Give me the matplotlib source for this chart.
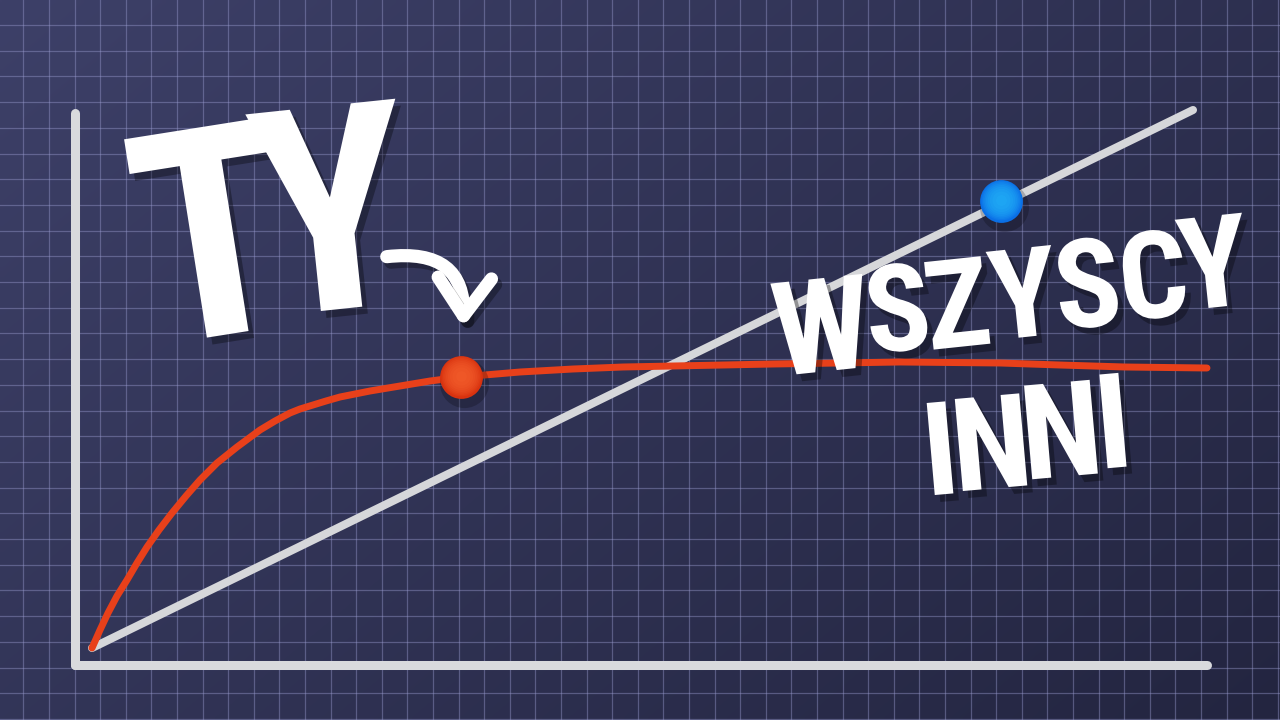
import glob
import os
import numpy as np
import matplotlib
matplotlib.use('Agg')
import matplotlib.pyplot as plt
import matplotlib.patheffects as pe
from matplotlib import font_manager as fm
from matplotlib.patches import FancyArrowPatch

# --- data (pixel-space values, y grows downward) ---
red_x = [92, 100, 108, 117, 127, 137, 147, 159, 172, 186, 200, 217, 237, 260, 275, 290, 300, 313, 326, 340,
         370, 400, 430, 461, 520, 573, 623, 673, 723, 773, 840, 900, 1000, 1060, 1125, 1207]
red_y = [648, 630, 613, 596, 580, 563, 547, 530, 513, 496, 480, 463, 447, 430, 421, 413, 409, 405, 401, 397,
         391, 386, 381, 377, 372, 369, 367, 366, 365, 364, 363, 362, 363, 365, 367, 368]

grey_x = [92, 1193]
grey_y = [648, 110]

axis_v_x = [75, 75]
axis_v_y = [113, 665]
axis_h_x = [75, 1207]
axis_h_y = [665, 665]

you_point = (461, 377)
others_point = (1001, 201)

# letters: (char, x, y, height_px, rotation)
ty_letters = [('T', 212, 232, 232, 9), ('Y', 331, 208, 226, 6)]
wszyscy_letters = [('W', 821, 325, 112, 6), ('S', 897, 308, 104, 6), ('Z', 957, 303, 106, 6),
                   ('Y', 1023, 293, 107, 6), ('S', 1087, 283, 106, 6), ('C', 1153, 275, 104, 6),
                   ('Y', 1213, 262, 110, 6)]
inni_letters = [('I', 940, 448, 110, 5), ('N', 991, 442, 110, 5), ('N', 1061, 430, 112, 5),
                ('I', 1113, 421, 112, 5)]

arrow_start = (384, 257)
arrow_end = (463, 330)

# --- pick a condensed heavy font if one is around ---
cands = ['notosans-extracondensedblack', 'notosans-extracondensedextrabold', 'notosans-extracondensedbold',
         'notosans-condensedblack', 'notosans-condensedextrabold', 'notosans-condensedbold',
         'robotocondensed-black', 'robotocondensed-extrabold', 'robotocondensed-bold', 'roboto_condensed-bold',
         'opensans-condensedextrabold', 'opensans-condensedbold', 'opensanscondensed-bold',
         'dejavusanscondensed-bold', 'liberationsansnarrow-bold']
files = [f.fname for f in fm.fontManager.ttflist]
for d in ['/usr/share/fonts', '/usr/local/share/fonts', os.path.expanduser('~/.fonts')]:
    files += glob.glob(d + '/**/*.[ot]tf', recursive=True)
font_file = None
for c in cands:
    for f in files:
        if os.path.basename(f).lower().replace(' ', '').startswith(c):
            font_file = f
            break
    if font_file:
        break
if font_file:
    letter_font = fm.FontProperties(fname=font_file)
else:
    letter_font = fm.FontProperties(family='DejaVu Sans', weight='bold')
cap_ratio = 0.711

fig = plt.figure(figsize=(12.8, 7.2), dpi=100)
ax = fig.add_axes([0, 0, 1, 1])
ax.set_xlim(0, 1280)
ax.set_ylim(720, 0)
ax.axis('off')

# background gradient, lighter top-left
gx, gy = np.meshgrid(np.linspace(0, 1, 256), np.linspace(0, 1, 144))
t = np.clip(0.6 * gx + 0.4 * gy, 0, 1)
c0 = np.array([61, 64, 104]) / 255
c1 = np.array([35, 37, 64]) / 255
bg = c0[None, None, :] * (1 - t[..., None]) + c1[None, None, :] * t[..., None]
ax.imshow(bg, extent=(0, 1280, 720, 0), aspect='auto', zorder=0, interpolation='bilinear')

# grid
for gxv in np.arange(23.3, 1280, 25.6):
    ax.axvline(gxv, color='#9a9cd0', alpha=0.42, lw=0.9, zorder=1)
for gyv in np.arange(25.0, 720, 25.7):
    ax.axhline(gyv, color='#9a9cd0', alpha=0.42, lw=0.9, zorder=1)

# axes
ax.plot(axis_v_x, axis_v_y, color='#d9dadd', lw=6.5, solid_capstyle='round', zorder=3)
ax.plot(axis_h_x, axis_h_y, color='#d9dadd', lw=6.5, solid_capstyle='round', zorder=3)

# lines
ax.plot(grey_x, grey_y, color='#d6d7da', lw=5.8, solid_capstyle='round', zorder=4)
ax.plot(red_x, red_y, color='#e8401a', lw=5.0, solid_capstyle='round', solid_joinstyle='round', zorder=5)

# dots with a soft radial shading
def dot(p, edge, hi):
    ax.scatter([p[0] + 3], [p[1] + 6], s=1250, color='black', alpha=0.22, lw=0, zorder=6)
    ax.scatter([p[0]], [p[1]], s=950, color=edge, lw=0, zorder=7)
    for s in np.linspace(820, 60, 8):
        ax.scatter([p[0]], [p[1] - 1], s=s, color=hi, lw=0, alpha=0.12, zorder=7)

dot(you_point, '#d8320f', '#ff7038')
dot(others_point, '#0a6fe6', '#2cc8ff')

# arrow
arr = FancyArrowPatch(arrow_start, arrow_end, connectionstyle='arc3,rad=-0.6',
                      arrowstyle='->,head_length=1.7,head_width=1.2', mutation_scale=16,
                      color='white', lw=9.5, capstyle='round', joinstyle='round', zorder=8)
arr.set_path_effects([pe.SimpleLineShadow(offset=(3, -4), shadow_color='black', alpha=0.3), pe.Normal()])
ax.add_patch(arr)

# big letters (font is wider than the original lettering, so shrink a little)
text_shadow = [pe.withSimplePatchShadow(offset=(4, -5), shadow_rgbFace='black', alpha=0.32)]
for group, shrink in [(ty_letters, 0.9), (wszyscy_letters, 0.83), (inni_letters, 0.84)]:
    for ch, x, y, h, rot in group:
        em = h * shrink / cap_ratio
        d = 0.08 * em  # va='center' sits a bit above the cap centre
        a = np.radians(rot)
        ax.text(x + d * np.sin(a), y + d * np.cos(a), ch, fontproperties=letter_font,
                fontsize=em * 0.72, color='white', ha='center', va='center',
                rotation=rot, rotation_mode='anchor', path_effects=text_shadow, zorder=9)

fig.savefig('out.png', dpi=100)
